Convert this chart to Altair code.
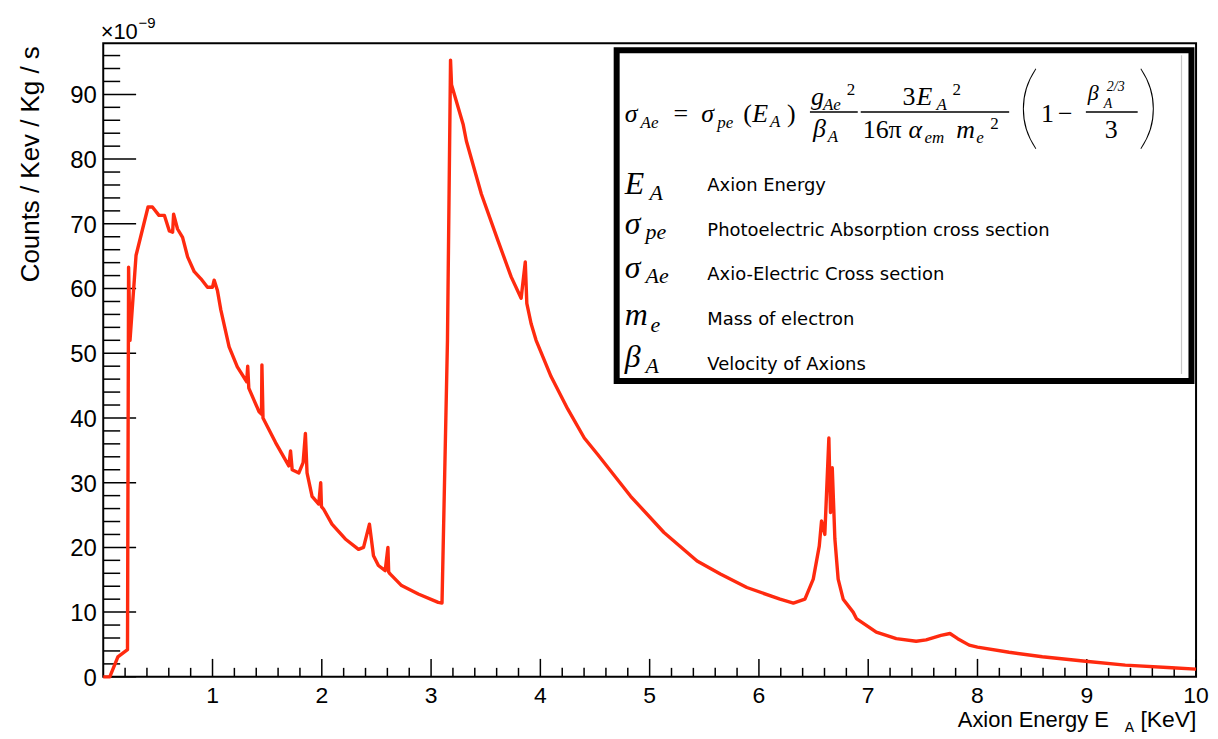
import altair as alt
import pandas as pd

# ---------------- data ----------------
energy_kev = [0.0, 0.06, 0.134, 0.222, 0.232, 0.245, 0.30, 0.41, 0.45, 0.51,
              0.56, 0.605, 0.635, 0.644, 0.68, 0.726, 0.772, 0.833, 0.894, 0.954,
              1.0, 1.015, 1.045, 1.076, 1.152, 1.227, 1.313, 1.322, 1.332, 1.425,
              1.448, 1.452, 1.462, 1.577, 1.698, 1.714, 1.729, 1.79, 1.829, 1.85,
              1.865, 1.911, 1.972, 1.99, 1.997, 2.017, 2.093, 2.215, 2.336, 2.382,
              2.436, 2.473, 2.518, 2.58, 2.605, 2.612, 2.625, 2.73, 2.883, 3.065,
              3.10, 3.15, 3.178, 3.187, 3.293, 3.323, 3.46, 3.612, 3.733, 3.824,
              3.862, 3.876, 3.915, 3.961, 4.098, 4.25, 4.402, 4.523, 4.826, 5.131,
              5.434, 5.647, 5.89, 6.193, 6.315, 6.421, 6.497, 6.552, 6.573, 6.603,
              6.64, 6.655, 6.671, 6.695, 6.725, 6.771, 6.862, 6.892, 7.074, 7.257,
              7.439, 7.53, 7.666, 7.748, 7.819, 7.924, 8.0, 8.289, 8.593, 8.988,
              9.352, 9.778, 10.0]

counts_e9 = [0.0, 0.0, 3.1, 4.2, 63.3, 52.0, 65.1, 72.6, 72.6, 71.3,
             71.3, 68.9, 68.7, 71.5, 69.2, 67.9, 64.9, 62.6, 61.5, 60.2,
             60.2, 61.3, 59.7, 56.7, 51.0, 47.9, 45.6, 48.0, 44.6, 41.0,
             40.6, 48.2, 40.0, 36.2, 32.6, 34.9, 32.0, 31.5, 33.1, 37.6,
             31.5, 27.9, 26.7, 30.0, 26.3, 25.9, 23.6, 21.3, 19.7, 20.0,
             23.6, 18.7, 17.2, 16.4, 20.0, 16.2, 15.9, 14.1, 12.8, 11.5,
             11.4, 52.0, 95.3, 91.5, 85.4, 82.8, 74.6, 67.4, 61.8, 58.5,
             64.1, 57.7, 54.6, 52.0, 46.4, 41.4, 36.9, 34.4, 27.9, 22.3,
             17.9, 15.9, 13.8, 12.0, 11.4, 12.0, 15.1, 20.2, 24.1, 22.0,
             36.9, 25.4, 32.3, 21.3, 15.1, 12.0, 10.0, 9.0, 6.9, 5.9,
             5.5, 5.7, 6.4, 6.7, 5.9, 4.9, 4.6, 3.8, 3.1, 2.4,
             1.8, 1.4, 1.2]

x_labels = [1, 2, 3, 4, 5, 6, 7, 8, 9, 10]
y_labels = [0, 10, 20, 30, 40, 50, 60, 70, 80, 90]
x_major_ticks = [1, 2, 3, 4, 5, 6, 7, 8, 9, 10]
x_minor_ticks = [round(0.2 * i, 1) for i in range(1, 50) if i % 5]
y_minor_ticks = [v for v in range(2, 98, 2) if v % 10]

legend_symbols = ["E", "σ", "σ", "m", "β"]
legend_subs = ["A", "pe", "Ae", "e", "A"]
legend_texts = ["Axion Energy", "Photoelectric Absorption cross section",
                "Axio-Electric Cross section", "Mass of electron", "Velocity of Axions"]

# ---------------- layout ----------------
W, H = 1097, 636
PAD_L, PAD_T = 95.6, 34
LEFT, TOP = 8 + PAD_L, 8 + PAD_T
SANS = "Liberation Sans"
SERIF = "Liberation Serif"
RED = "#ff2a0f"

xs = alt.Scale(domain=[0, 10], nice=False, zero=False)
ys = alt.Scale(domain=[0, 97.9], nice=False, zero=False)

df = pd.DataFrame({"energy": energy_kev, "counts": counts_e9})
one = pd.DataFrame({"k": [0]})

line = alt.Chart(df).mark_line(color=RED, strokeWidth=3.4, strokeJoin="round").encode(
    x=alt.X("energy:Q", scale=xs, axis=None),
    y=alt.Y("counts:Q", scale=ys, axis=None),
)


def tick_layer(vals, axis, length):
    d = pd.DataFrame({"v": vals})
    if axis == "y":
        return alt.Chart(d).mark_rule(color="black", strokeWidth=1.5).encode(
            y=alt.Y("v:Q", scale=ys, axis=None), x=alt.value(0), x2=alt.value(length))
    return alt.Chart(d).mark_rule(color="black", strokeWidth=1.5).encode(
        x=alt.X("v:Q", scale=xs, axis=None), y=alt.value(H), y2=alt.value(H - length))


y_label_layer = alt.Chart(pd.DataFrame({"v": y_labels})).mark_text(
    font=SANS, fontSize=24, align="right", baseline="alphabetic", dy=9, color="black"
).encode(y=alt.Y("v:Q", scale=ys, axis=None), x=alt.value(-6.5), text=alt.Text("v:Q"))

x_label_layer = alt.Chart(pd.DataFrame({"v": x_labels})).mark_text(
    font=SANS, fontSize=23, align="center", baseline="alphabetic", color="black"
).encode(x=alt.X("v:Q", scale=xs, axis=None), y=alt.value(H + 26), text=alt.Text("v:Q"))


def txt(s, x, y, size, font=SERIF, italic=False, align="left", angle=0, weight="normal"):
    return alt.Chart(one).mark_text(
        text=s, font=font, fontSize=size, fontStyle="italic" if italic else "normal",
        fontWeight=weight, align=align, baseline="alphabetic", angle=angle, color="black"
    ).encode(x=alt.value(x - LEFT), y=alt.value(y - TOP))


def hline(x1, x2, y, w=1.3):
    return alt.Chart(one).mark_rule(color="black", strokeWidth=w).encode(
        x=alt.value(x1 - LEFT), x2=alt.value(x2 - LEFT), y=alt.value(y - TOP))


def vline(x, y1, y2, color="#c8c8c8", w=1.2):
    return alt.Chart(one).mark_rule(color=color, strokeWidth=w).encode(
        x=alt.value(x - LEFT), y=alt.value(y1 - TOP), y2=alt.value(y2 - TOP))


layers = [
    tick_layer(y_labels, "y", 33),
    tick_layer(y_minor_ticks, "y", 17),
    tick_layer(x_major_ticks, "x", 18),
    tick_layer(x_minor_ticks, "x", 9),
    y_label_layer,
    x_label_layer,
    line,
]

# axis titles / exponent
layers += [
    txt("×10", 101, 38, 22, font=SANS),
    txt("−9", 139, 27, 15, font=SANS),
    txt("Counts / Kev / Kg / s", 39, 45, 26, font=SANS, align="right", angle=270),
    txt("Axion Energy E", 1113, 728, 22, font=SANS, align="right"),
    txt("A", 1129, 733, 14, font=SANS),
    txt("[KeV]", 1201, 728, 23, font=SANS, align="right"),
]

# legend box
box = alt.Chart(one).mark_rect(fill="white", stroke="black", strokeWidth=6).encode(
    x=alt.value(619 - LEFT), x2=alt.value(1196 - LEFT),
    y=alt.value(49 - TOP), y2=alt.value(381 - TOP))
layers += [box, vline(1186, 54, 374)]

# formula
MS, SS = 26, 17
layers += [
    txt("σ", 627, 121, MS, italic=True), txt("Ae", 643, 127, SS, italic=True),
    txt("=", 676, 121, MS),
    txt("σ", 704, 121, MS, italic=True), txt("pe", 720, 127, SS, italic=True),
    txt("(", 746, 121, MS), txt("E", 755, 121, MS, italic=True),
    txt("A", 773, 126, SS, italic=True), txt(")", 790, 121, MS),
    txt("g", 814, 104, MS, italic=True), txt("Ae", 826, 109, SS, italic=True),
    txt("2", 850, 94, SS),
    hline(813, 861, 111),
    txt("β", 816, 136, MS, italic=True), txt("A", 831, 141, SS, italic=True),
    txt("3", 906, 104, MS), txt("E", 920, 104, MS, italic=True),
    txt("A", 940, 109, SS, italic=True), txt("2", 956, 94, SS),
    hline(864, 1013, 111),
    txt("16π", 866, 137, MS), txt("α", 912, 137, MS, italic=True),
    txt("em", 928, 142, SS, italic=True),
    txt("m", 960, 137, MS, italic=True), txt("e", 980, 142, SS, italic=True),
    txt("2", 994, 128, SS),
    txt("(", 1044, 137, 92, font="Lato", weight=200, align="right"),
    txt("1", 1045, 121, MS), txt("−", 1062, 121, MS),
    txt("β", 1092, 99, 22, italic=True), txt("2/3", 1111, 90, 14, italic=True),
    txt("A", 1108, 107, 14, italic=True),
    hline(1090, 1142, 111),
    txt("3", 1109, 137, MS),
    txt(")", 1141, 137, 92, font="Lato", weight=200),
]

# legend rows
row_base = [193, 233, 278, 325, 367]
sub_dy = [6, 5, 5, 7, 6]
sub_dx = [25, 21, 21, 26, 21]
lab_base = [190, 235, 280, 325, 370]
for i in range(5):
    layers.append(txt(legend_symbols[i], 627, row_base[i], 32, italic=True))
    layers.append(txt(legend_subs[i], 627 + sub_dx[i], row_base[i] + sub_dy[i], 22, italic=True))
    layers.append(txt(legend_texts[i], 710, lab_base[i], 18, font="DejaVu Sans"))

chart = alt.layer(*layers).properties(
    width=W, height=H,
    autosize=alt.AutoSizeParams(type="none"),
    padding={"left": PAD_L, "top": PAD_T, "right": 14, "bottom": 58},
    background="white",
).configure_view(stroke="black", strokeWidth=2)

chart.save("out.html", embed_options={"renderer": "svg", "actions": False})
